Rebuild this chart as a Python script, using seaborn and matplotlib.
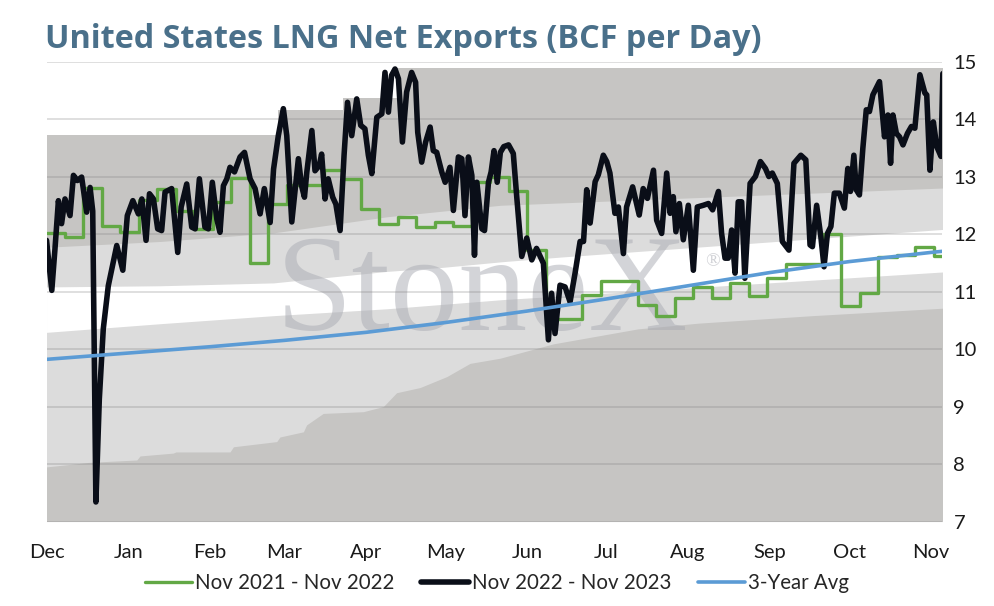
import pandas as pd
import numpy as np
import matplotlib
matplotlib.use("Agg")
import matplotlib.pyplot as plt
import matplotlib.dates as mdates
import seaborn as sns

start = pd.Timestamp("2022-12-01")

# Nov 2022 - Nov 2023, days counted from Dec 1
black_day = [0, 2.0, 3.2, 4.5, 5.7, 7.0, 8.9, 10.2, 11.7, 13.3, 15.2, 16.5, 17.5, 18.7, 20.0,
             21.5, 23.4, 26.6, 28.9, 30.6, 32.7, 34.8, 36.1, 37.7, 39.0, 40.5, 42.1, 43.6, 44.9,
             47.4, 49.7, 51.0, 53.1, 55.0, 56.3, 57.9, 60.0, 61.3, 62.8, 64.5, 65.7, 67.0, 68.3,
             69.5, 71.2, 73.3, 75.0, 77.1, 79.0, 80.9, 82.5, 84.7, 86.0, 87.8, 89.7, 91.0, 92.9,
             94.1, 95.4, 96.6, 97.7, 98.6, 100.5, 101.7, 103.3, 104.2, 105.5, 106.7, 108.4, 109.6,
             111.2, 112.7, 114.0, 115.6, 117.5, 119.0, 120.6, 121.9, 123.2, 125.1, 127.0, 128.2,
             129.5, 130.7, 132.0, 133.3, 134.8, 136.4, 138.3, 139.8, 140.6, 142.1, 143.6, 145.3,
             146.5, 147.8, 149.7, 151.0, 152.8, 154.1, 156.0, 157.3, 158.5, 159.8, 161.1, 162.1,
             163.0, 164.9, 165.9, 167.4, 168.4, 169.5, 170.7, 171.9, 173.2, 175.0, 176.8, 178.1,
             180.0, 181.9, 183.8, 185.6, 188.2, 190.1, 191.3, 192.6, 194.5, 196.4, 198.3, 200.2,
             202.1, 203.4, 204.6, 205.9, 207.8, 209.0, 210.9, 212.2, 213.4, 215.3, 216.6, 218.5,
             219.7, 222.0, 224.5, 226.0, 227.6, 229.9, 231.1, 233.0, 234.9, 236.2, 237.4, 238.4,
             239.7, 241.2, 243.1, 245.0, 246.5, 248.8, 250.7, 252.3, 254.5, 255.7, 257.0, 258.2,
             259.5, 260.8, 262.0, 263.3, 264.5, 266.5, 268.5, 270.4, 272.3, 273.6, 274.9, 276.8,
             278.7, 281.2, 283.1, 285.7, 287.6, 289.2, 290.1, 291.7, 293.3, 294.5, 295.8, 297.1,
             298.4, 300.3, 302.2, 303.5, 304.5, 305.8, 306.7, 307.9, 309.2, 310.5, 311.7, 313.0,
             315.5, 317.4, 318.7, 319.7, 320.6, 321.9, 323.1, 324.4, 326.1, 327.6, 328.9, 330.8,
             332.7, 333.4, 334.6, 335.9, 337.2, 338.8, 339.5]
black_val = [11.89, 11.02, 11.74, 12.58, 12.18, 12.61, 12.32, 13.02, 12.93, 12.99, 12.38, 12.81, 12.4, 7.34, 9.13,
             10.35, 11.1, 11.8, 11.37, 12.32, 12.58, 12.35, 12.61, 11.89, 12.7, 12.61, 12.09, 12.06, 12.73,
             12.79, 11.68, 12.47, 12.87, 12.12, 12.09, 12.96, 12.12, 12.09, 12.9, 12.26, 12.03, 12.84, 12.96,
             13.16, 13.08, 13.34, 13.42, 12.96, 12.79, 12.35, 12.79, 12.2, 13.13, 13.71, 14.18, 13.71, 12.21,
             12.73, 13.31, 12.84, 12.64, 13.08, 13.8, 13.1, 13.19, 13.39, 12.61, 12.96, 12.64, 12.52,
             12.06, 13.37, 14.29, 13.71, 14.35, 13.89, 13.83, 13.37, 13.05, 14.03, 14.09, 14.81,
             14.12, 14.76, 14.87, 14.70, 13.60, 14.47, 14.81, 14.64, 13.77, 13.25, 13.60, 13.86,
             13.45, 13.42, 13.08, 12.90, 13.16, 12.41, 13.34, 13.31, 12.32, 13.34, 13.02, 11.63,
             12.90, 12.09, 12.06, 12.90, 13.08, 13.45, 12.90, 13.42, 13.52, 13.55, 13.40, 12.65,
             11.61, 11.93, 11.55, 11.75, 11.49, 10.16, 10.97, 10.27, 11.11, 11.08, 10.82, 11.32,
             11.87, 11.87, 12.77, 12.19, 12.91, 13.03, 13.37, 13.26, 13.06, 12.36, 12.47, 11.66,
             12.47, 12.82, 12.33, 12.79, 12.62, 13.11, 12.24, 12.01, 13.06, 12.36, 12.65, 12.04,
             12.53, 11.90, 12.50, 11.37, 12.47, 12.50, 12.53, 12.42, 12.74, 12.01, 11.58, 11.58,
             12.07, 11.32, 12.56, 12.56, 11.23, 12.88, 13.00, 13.26, 13.14, 13.00, 13.06, 12.88,
             11.87, 11.72, 13.23, 13.37, 13.29, 11.81, 11.78, 12.50, 11.95, 11.43, 12.01, 12.13,
             12.71, 12.71, 12.45, 13.14, 12.74, 13.37, 12.77, 12.68, 13.49, 14.16, 14.13, 14.42,
             14.65, 13.69, 14.07, 13.23, 14.07, 13.75, 13.69, 13.55, 13.75, 13.87, 13.84, 14.77,
             14.45, 14.42, 13.11, 13.95, 13.52, 13.35, 14.79]

# Nov 2021 - Nov 2022, weekly values starting Dec 1
green_day = [7 * k for k in range(49)] + [339.5]
green_val = [12.02, 11.95, 12.8, 12.14, 12.04, 12.6, 12.78, 12.4, 12.08, 12.55, 12.98, 11.5,
             12.53, 12.86, 12.86, 13.12, 12.95, 12.43, 12.17, 12.29, 12.12, 12.21, 12.14, 12.9,
             13.0, 12.74, 11.72, 10.53, 10.53, 10.94, 11.19, 11.19, 10.77, 10.57, 10.88, 11.07,
             10.88, 11.15, 10.92, 11.23, 11.48, 11.48, 12.0, 10.74, 10.97, 11.6, 11.64, 11.78,
             11.62, 11.62]

# 3-year average
blue_day = [0, 31, 62, 90, 121, 151, 182, 212, 243, 274, 304, 335, 339.5]
blue_val = [9.82, 9.93, 10.04, 10.15, 10.29, 10.46, 10.66, 10.87, 11.1, 11.33, 11.52, 11.68, 11.7]

# range bands (top to bottom edges)
max_day = [0, 87.8, 112.4, 132.6, 339.5]
max_val = [13.73, 14.16, 14.36, 14.89, 14.89]
hi_day = [0, 43, 86, 129, 172, 339.5]
hi_val = [11.77, 11.87, 12.02, 12.3, 12.5, 12.8]
mid_hi_day = [0, 43, 86, 129, 150, 173, 195, 339.5]
mid_hi_val = [11.08, 11.1, 11.15, 11.35, 11.42, 11.52, 11.6, 12.08]
mid_lo_day = [0, 43, 86, 129, 173, 339.5]
mid_lo_val = [10.29, 10.44, 10.58, 10.7, 10.86, 11.34]
min_day = [0, 16.5, 34.2, 35.4, 48, 49, 69.5, 70.8, 87.2, 88.4, 97.3, 98.5, 104.8, 120, 127.6,
           132.6, 141.5, 151.6, 160.4, 171.8, 192, 224, 247, 290, 339.5]
min_val = [7.95, 8.03, 8.07, 8.14, 8.19, 8.21, 8.21, 8.3, 8.39, 8.47, 8.56, 8.68, 8.88, 8.91, 9.0,
           9.24, 9.33, 9.52, 9.75, 9.84, 10.09, 10.35, 10.45, 10.58, 10.71]

y_ticks = [7, 8, 9, 10, 11, 12, 13, 14, 15]


def to_dates(days):
    return start + pd.to_timedelta(np.array(days), unit="D")


dark = "#c6c5c3"
light = "#dcdcdc"

sns.set_theme(style="white")
plt.rcParams["font.family"] = ["Lato", "DejaVu Sans"]

fig = plt.figure(figsize=(9.94, 6.06), dpi=100)
ax = fig.add_axes([0.0468, 0.1394, 0.9012, 0.7591])

# bands painted from the top down
ax.fill_between(to_dates(max_day), 7, max_val, step="post", color=dark, lw=0, zorder=1)
ax.fill_between(to_dates(hi_day), 7, hi_val, color=light, lw=0, zorder=1.1)
ax.fill_between(to_dates(mid_hi_day), 7, mid_hi_val, color="white", lw=0, zorder=1.2)
ax.fill_between(to_dates(mid_lo_day), 7, mid_lo_val, color=light, lw=0, zorder=1.3)
ax.fill_between(to_dates(min_day), 7, min_val, color=dark, lw=0, zorder=1.4)

ax.text(0.2555, 0.416, "StoneX", transform=ax.transAxes, fontsize=99,
        family="Liberation Serif", color="#a9abb3", alpha=0.5, ha="left", va="baseline", zorder=2)
ax.text(0.735, 0.565, "®", transform=ax.transAxes, fontsize=14,
        family="Liberation Serif", color="#a9abb3", alpha=0.55, ha="left", va="center", zorder=2)

df_green = pd.DataFrame({"date": to_dates(green_day), "val": green_val})
df_black = pd.DataFrame({"date": to_dates(black_day), "val": black_val})
df_blue = pd.DataFrame({"date": to_dates(blue_day), "val": blue_val})

sns.lineplot(data=df_green, x="date", y="val", ax=ax, color="#62a845", lw=2.4,
             drawstyle="steps-post", label="Nov 2021 - Nov 2022", zorder=4)
sns.lineplot(data=df_black, x="date", y="val", ax=ax, color="#0a0e18", lw=4.0,
             label="Nov 2022 - Nov 2023", zorder=5)
sns.lineplot(data=df_blue, x="date", y="val", ax=ax, color="#5b9bd5", lw=2.6,
             label="3-Year Avg", zorder=6)

ax.set_xlim(start, start + pd.Timedelta(days=339.3))
ax.set_ylim(7, 15)
ax.set_yticks(y_ticks)
ax.yaxis.tick_right()
ax.xaxis.set_major_locator(mdates.MonthLocator())
ax.xaxis.set_major_formatter(mdates.DateFormatter("%b"))
ax.tick_params(axis="x", length=0, pad=16, labelsize=14.5, colors="#1a1a1a")
ax.tick_params(axis="y", length=0, pad=8, labelsize=14.5, colors="#1a1a1a")
ax.set_xlabel("")
ax.set_ylabel("")
for s in ax.spines.values():
    s.set_visible(False)
ax.set_axisbelow(False)
ax.yaxis.grid(True, color="#808080", alpha=0.28, lw=1.3, zorder=3)
ax.xaxis.grid(False)

handles, labels = ax.get_legend_handles_labels()
ax.get_legend().remove()
fig.legend(handles, labels, loc="center", bbox_to_anchor=(0.5, 0.038), ncol=3, frameon=False,
           fontsize=14.8, handlelength=2.3, handletextpad=0.15, columnspacing=1.3)

fig.text(45 / 994, 1 - 47.5 / 606, "United States LNG Net Exports (BCF per Day)", fontsize=23.3,
         fontweight="bold", family="Open Sans", color="#4a708a", ha="left", va="baseline")

fig.savefig("out.png", dpi=100)
